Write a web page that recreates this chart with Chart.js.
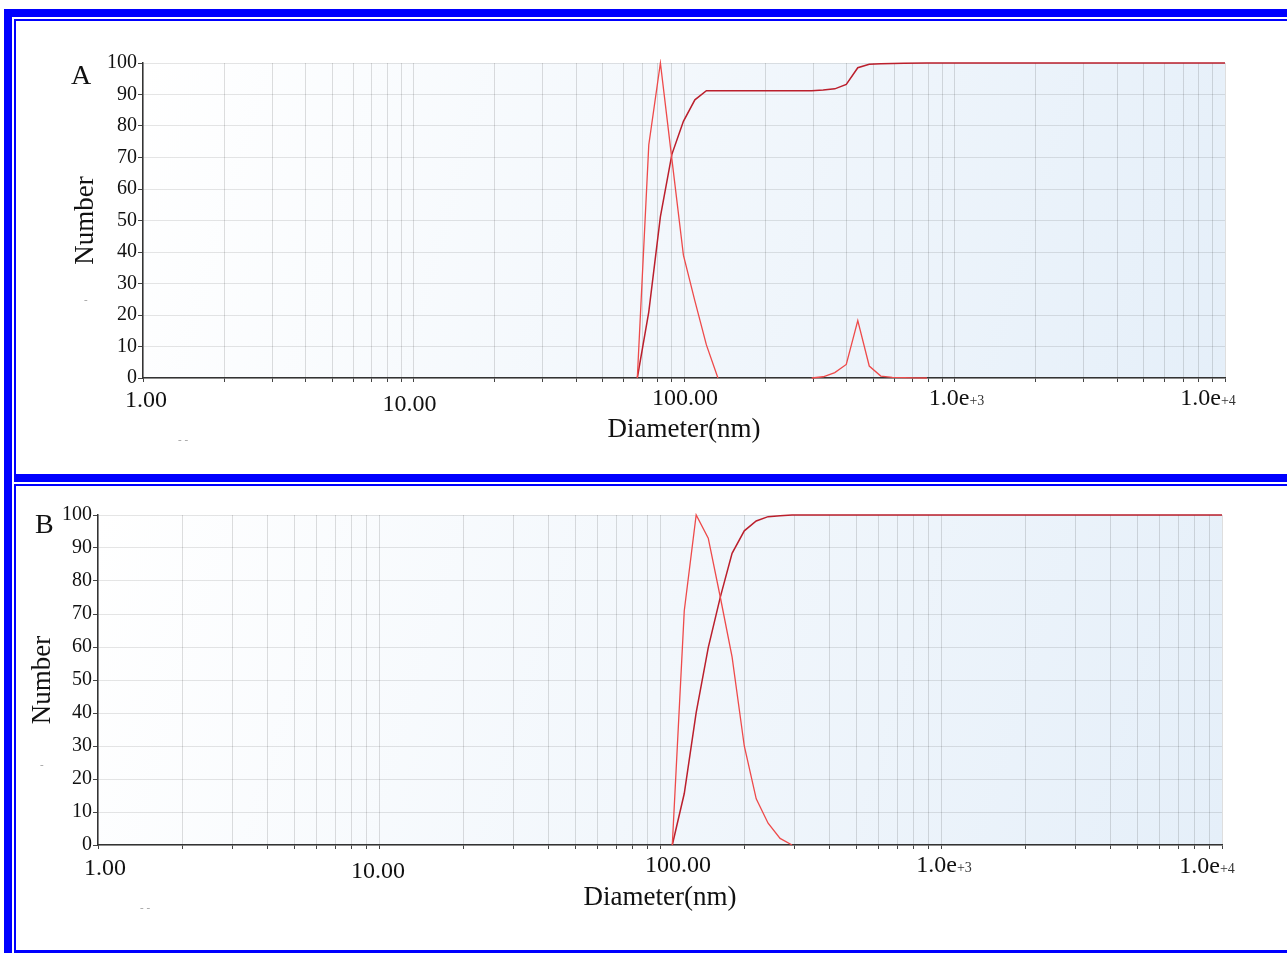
<!DOCTYPE html>
<html>
<head>
<meta charset="utf-8">
<script src="https://cdn.jsdelivr.net/npm/chart.js@4.4.0/dist/chart.umd.min.js"></script>
<style>
body { margin: 0; background: #fff; width: 1287px; height: 953px; overflow: hidden; position: relative; font-family: "Liberation Serif", serif; }
.bar { position: absolute; background: #0000ff; }
canvas { position: absolute; }
.tag { position: absolute; font-size: 28px; line-height: 28px; color: #111; }
.dot { position: absolute; font-size: 11px; line-height: 11px; color: #999; }
</style>
</head>
<body>
<div class="bar" style="left:4px;top:9px;width:8px;height:944px"></div>
<div class="bar" style="left:4px;top:9px;width:1283px;height:8px"></div>
<div class="bar" style="left:14px;top:19px;width:1273px;height:2px"></div>
<div class="bar" style="left:14px;top:19px;width:2px;height:455px"></div>
<div class="bar" style="left:14px;top:474px;width:1273px;height:8px"></div>
<div class="bar" style="left:14px;top:484px;width:1273px;height:2px"></div>
<div class="bar" style="left:14px;top:484px;width:2px;height:466px"></div>
<div class="bar" style="left:14px;top:950px;width:1273px;height:3px"></div>

<canvas id="chartA" width="1271" height="453" style="left:16px;top:21px"></canvas>
<canvas id="chartB" width="1271" height="464" style="left:16px;top:486px"></canvas>

<div class="tag" style="left:71px;top:61px">A</div>
<div class="tag" style="left:35px;top:510px">B</div>
<div class="dot" style="left:178px;top:434px">- -</div>
<div class="dot" style="left:84px;top:294px">-</div>
<div class="dot" style="left:140px;top:902px">- -</div>
<div class="dot" style="left:40px;top:759px">-</div>

<script>
// panel A
var sizeDistA = [67.2, 74.1, 81.8, 90.2, 99.5, 109.7, 121, 133.5, 200, 296.5, 327, 361, 398, 439, 484, 534, 589, 650, 717, 791];
var numberA   = [0, 74, 100, 69.5, 39, 24.5, 10.5, 0, null, 0, 0.4, 1.7, 4.3, 18.2, 3.8, 0.6, 0.2, 0.1, 0.05, 0];
var sizeCumA  = [67.2, 74.1, 81.8, 90.2, 99.5, 109.7, 121, 296.5, 327, 361, 398, 439, 484, 534, 650, 791, 10000];
var cumA      = [0, 21, 51.2, 71, 81.5, 88.3, 91.2, 91.2, 91.4, 91.8, 93.2, 98.5, 99.6, 99.8, 99.9, 100, 100];

// panel B
var sizeDistB = [110.6, 122, 134.5, 148.5, 164, 180.5, 199.5, 220, 242.5, 267.5, 295];
var numberB   = [0, 71, 100, 93, 75, 57, 30, 14, 6.6, 2, 0];
var sizeCumB  = [110.6, 122, 134.5, 148.5, 164, 180.5, 199.5, 220, 242.5, 267.5, 295, 10000];
var cumB      = [0, 15.6, 40.1, 59.8, 75.2, 88.4, 95.2, 98.2, 99.5, 99.8, 100, 100];

// axis labels
var xTickValues = [1, 10, 100, 1000, 10000];
var xTickMain = ["1.00", "10.00", "100.00", "1.0e", "1.0e"];
var xTickExp = ["", "", "", "+3", "+4"];
var xGridValues = [];
for (var k = 0; k < 4; k++) {
  for (var m = 1; m < 10; m++) xGridValues.push(m * Math.pow(10, k));
}
xGridValues.push(10000);

var serif = '"Liberation Serif", serif';
Chart.defaults.font.family = serif;
Chart.defaults.color = "#111";

var plotBg = {
  id: "plotbg",
  beforeDraw: function (chart) {
    var a = chart.chartArea, ctx = chart.ctx;
    var g = ctx.createLinearGradient(a.left, a.top, a.right, a.bottom);
    g.addColorStop(0, "#ffffff");
    g.addColorStop(1, "#e5eff9");
    ctx.save();
    ctx.fillStyle = g;
    ctx.fillRect(a.left, a.top, a.right - a.left, a.bottom - a.top);
    ctx.restore();
  }
};

var xLabels = {
  id: "xlabels",
  afterDraw: function (chart, args, opts) {
    var ctx = chart.ctx, sx = chart.scales.x, bottom = chart.chartArea.bottom;
    ctx.save();
    ctx.textBaseline = "alphabetic";
    ctx.textAlign = "left";
    xTickValues.forEach(function (v, i) {
      ctx.font = "24px " + serif;
      var wMain = ctx.measureText(xTickMain[i]).width;
      ctx.font = "14px " + serif;
      var wExp = ctx.measureText(xTickExp[i]).width;
      var cx = sx.getPixelForValue(v) + opts.dx[i];
      var left = cx - (wMain + wExp) / 2;
      var by = bottom + opts.dy[i];
      ctx.fillStyle = "#111";
      ctx.font = "24px " + serif;
      ctx.fillText(xTickMain[i], left, by);
      ctx.fillStyle = "#333";
      ctx.font = "14px " + serif;
      ctx.fillText(xTickExp[i], left + wMain, by);
    });
    ctx.restore();
  }
};

function pts(xs, ys) {
  return xs.map(function (x, i) { return { x: x, y: ys[i] }; });
}

function makeChart(id, distX, distY, cumX, cumY, lay) {
  return new Chart(document.getElementById(id), {
    type: "line",
    data: {
      datasets: [{
        data: pts(distX, distY),
        borderColor: "#ee4a4a",
        borderWidth: 1.3,
        pointRadius: 0,
        tension: 0,
        clip: 4
      }, {
        data: pts(cumX, cumY),
        borderColor: "#bb1f2c",
        borderWidth: 1.5,
        pointRadius: 0,
        tension: 0,
        clip: 4
      }]
    },
    options: {
      responsive: false,
      animation: false,
      devicePixelRatio: 1,
      layout: { padding: { left: 0, right: lay.padRight, top: lay.padTop, bottom: 0 } },
      plugins: {
        legend: { display: false },
        tooltip: { enabled: false },
        xlabels: { dx: lay.dx, dy: lay.dy }
      },
      scales: {
        x: {
          type: "logarithmic",
          min: 1,
          max: 10000,
          afterBuildTicks: function (s) {
            s.ticks = xGridValues.map(function (v) { return { value: v }; });
          },
          afterFit: function (s) { s.height = lay.xHeight; },
          ticks: { autoSkip: false, maxRotation: 0, callback: function () { return ""; } },
          grid: { color: "rgba(0,0,0,0.13)", tickColor: "#444", tickLength: 4 },
          border: { color: "#333", width: 1.5 },
          title: {
            display: true,
            text: "Diameter(nm)",
            font: { size: 27, family: serif },
            color: "#111",
            padding: { top: 0, bottom: lay.xTitlePad }
          }
        },
        y: {
          min: 0,
          max: 100,
          afterFit: function (s) { s.width = lay.yWidth; },
          ticks: { stepSize: 10, padding: 1, font: { size: 20, family: serif }, color: "#111" },
          grid: { color: "rgba(0,0,0,0.10)", tickColor: "#444", tickLength: 5 },
          border: { color: "#333", width: 1.5 },
          title: {
            display: true,
            text: "Number",
            font: { size: 27, family: serif },
            color: "#111",
            padding: { top: lay.yTitlePad, bottom: 0 }
          }
        }
      }
    },
    plugins: [plotBg, xLabels]
  });
}

makeChart("chartA", sizeDistA, numberA, sizeCumA, cumA, {
  padRight: 62, padTop: 42, xHeight: 96, yWidth: 127,
  xTitlePad: 27.8, yTitlePad: 53.8,
  dx: [3, -4, 1, 2, -17], dy: [29, 33, 27, 27, 27]
});

makeChart("chartB", sizeDistB, numberB, sizeCumB, cumB, {
  padRight: 65, padTop: 29, xHeight: 105, yWidth: 82,
  xTitlePad: 35.8, yTitlePad: 10.8,
  dx: [7, -1, 18, 3, -15], dy: [30, 33, 27, 27, 28]
});
</script>
</body>
</html>
